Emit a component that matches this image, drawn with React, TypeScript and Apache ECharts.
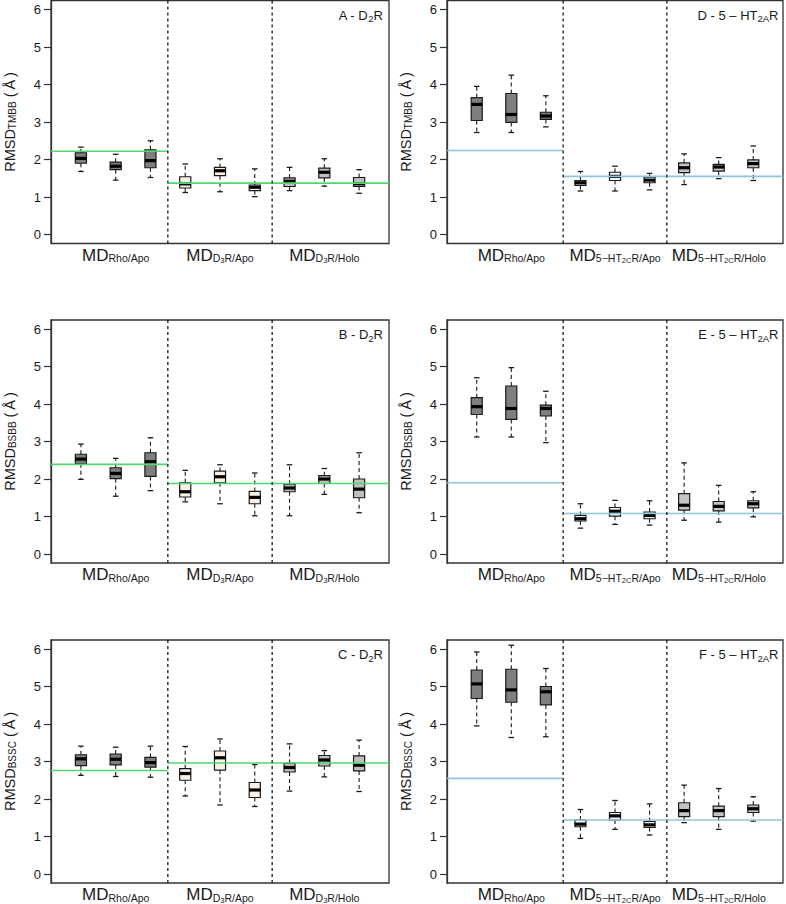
import React, { useEffect, useRef } from "react";
import * as echarts from "echarts";

const FONT = "'Liberation Sans', Arial, Helvetica, sans-serif";

// axis extents (R-style 4% extension of [0.5, 9.5] and [0, 6])
const xMin = 0.14;
const xMax = 9.86;
const yMin = -0.24;
const yMax = 6.24;
const groupEdges = [xMin, 3.5, 6.5, xMax];
const yTicks = [0, 1, 2, 3, 4, 5, 6];
const groupLabelPositions = [2, 5, 8];

// group (category) labels
const d2Groups = [
  "{m|MD}{s|Rho/Apo}",
  "{m|MD}{s|D}{ss|3}{s|R/Apo}",
  "{m|MD}{s|D}{ss|3}{s|R/Holo}",
];
const htGroups = [
  "{m|MD}{s|Rho/Apo}",
  "{m|MD}{s|5−HT}{ss|2C}{s|R/Apo}",
  "{m|MD}{s|5−HT}{ss|2C}{s|R/Holo}",
];

// box statistics: [min, q1, median, q3, max]
const tmbbD2R = [
  [1.68, 1.9, 2.03, 2.18, 2.33],
  [1.45, 1.73, 1.82, 1.93, 2.14],
  [1.52, 1.78, 1.97, 2.26, 2.5],
  [1.12, 1.24, 1.35, 1.54, 1.88],
  [1.14, 1.57, 1.7, 1.79, 2.02],
  [1.01, 1.17, 1.26, 1.32, 1.75],
  [1.17, 1.28, 1.42, 1.51, 1.79],
  [1.29, 1.51, 1.66, 1.77, 2.02],
  [1.1, 1.28, 1.35, 1.52, 1.73],
];
const bsbbD2R = [
  [1.99, 2.41, 2.53, 2.66, 2.93],
  [1.54, 2.01, 2.15, 2.3, 2.55],
  [1.69, 2.07, 2.46, 2.7, 3.1],
  [1.39, 1.52, 1.66, 1.9, 2.23],
  [1.34, 1.9, 2.06, 2.21, 2.38],
  [1.02, 1.34, 1.51, 1.67, 2.16],
  [1.02, 1.66, 1.76, 1.86, 2.38],
  [1.59, 1.88, 2.0, 2.09, 2.28],
  [1.1, 1.5, 1.73, 2.0, 2.7],
];
const bsscD2R = [
  [2.63, 2.89, 3.07, 3.18, 3.41],
  [2.6, 2.91, 3.06, 3.2, 3.38],
  [2.58, 2.85, 2.97, 3.11, 3.41],
  [2.08, 2.5, 2.68, 2.81, 3.4],
  [1.84, 2.77, 3.1, 3.28, 3.6],
  [1.8, 2.04, 2.24, 2.44, 2.92],
  [2.21, 2.72, 2.84, 2.95, 3.47],
  [2.59, 2.88, 3.04, 3.16, 3.29],
  [2.2, 2.75, 2.9, 3.15, 3.57],
];
const tmbbHT = [
  [2.72, 3.04, 3.47, 3.65, 3.95],
  [2.72, 2.99, 3.2, 3.76, 4.25],
  [2.87, 3.07, 3.16, 3.26, 3.7],
  [1.16, 1.31, 1.38, 1.44, 1.68],
  [1.16, 1.44, 1.55, 1.66, 1.82],
  [1.19, 1.38, 1.45, 1.53, 1.63],
  [1.33, 1.65, 1.78, 1.91, 2.15],
  [1.49, 1.69, 1.8, 1.87, 2.05],
  [1.44, 1.78, 1.89, 1.99, 2.36],
];
const bsbbHT = [
  [3.12, 3.72, 3.93, 4.17, 4.7],
  [3.12, 3.59, 3.88, 4.48, 4.97],
  [2.97, 3.68, 3.88, 3.97, 4.34],
  [0.69, 0.88, 0.94, 1.03, 1.34],
  [0.79, 1.01, 1.14, 1.24, 1.43],
  [0.77, 0.94, 1.03, 1.12, 1.42],
  [0.9, 1.17, 1.3, 1.61, 2.43],
  [0.85, 1.15, 1.27, 1.4, 1.83],
  [0.99, 1.23, 1.34, 1.42, 1.66],
];
const bsscHT = [
  [3.95, 4.68, 5.07, 5.44, 5.92],
  [3.64, 4.58, 4.91, 5.46, 6.1],
  [3.66, 4.51, 4.86, 5.0, 5.48],
  [0.95, 1.26, 1.33, 1.44, 1.72],
  [1.19, 1.44, 1.55, 1.64, 1.96],
  [1.04, 1.24, 1.31, 1.4, 1.87],
  [1.37, 1.53, 1.69, 1.9, 2.37],
  [1.19, 1.53, 1.69, 1.81, 2.28],
  [1.41, 1.64, 1.74, 1.84, 2.06],
];

// reference (crystal structure) RMSD per group
const refTmbbD2R = [2.22, 1.37, 1.37];
const refBsbbD2R = [2.39, 1.88, 1.88];
const refBsscD2R = [2.76, 2.96, 2.96];
const refTmbbHT = [2.24, 1.55, 1.55];
const refBsbbHT = [1.9, 1.08, 1.08];
const refBsscHT = [2.55, 1.44, 1.44];

const panelTitles = [
  "{t|A - D}{ts|2}{t|R}",
  "{t|B - D}{ts|2}{t|R}",
  "{t|C - D}{ts|2}{t|R}",
  "{t|D - 5 – HT}{ts|2A}{t|R}",
  "{t|E - 5 – HT}{ts|2A}{t|R}",
  "{t|F - 5 – HT}{ts|2A}{t|R}",
];
const yNames = [
  "{n|RMSD}{ns|TMBB}{n| (\u2009Å\u2009)}",
  "{n|RMSD}{ns|BSBB}{n| (\u2009Å\u2009)}",
  "{n|RMSD}{ns|BSSC}{n| (\u2009Å\u2009)}",
];

const d2Fills = ["#7f7f7f", "#fbf1e6", "#bfbfbf"];
const htFills = ["#7f7f7f", "#f8f8f8", "#c4c4c4"];
const green = "#4fd86f";
const blue = "#8fc4dd";

const colLeft = [51, 447];
const colWidth = [338, 336];
const rowTop = [0.5, 320, 640];
const rowHeight = 243;

const panels = [
  { data: tmbbD2R, ref: refTmbbD2R, col: 0, row: 0, groups: d2Groups, fills: d2Fills, refColor: green },
  { data: bsbbD2R, ref: refBsbbD2R, col: 0, row: 1, groups: d2Groups, fills: d2Fills, refColor: green },
  { data: bsscD2R, ref: refBsscD2R, col: 0, row: 2, groups: d2Groups, fills: d2Fills, refColor: green },
  { data: tmbbHT, ref: refTmbbHT, col: 1, row: 0, groups: htGroups, fills: htFills, refColor: blue },
  { data: bsbbHT, ref: refBsbbHT, col: 1, row: 1, groups: htGroups, fills: htFills, refColor: blue },
  { data: bsscHT, ref: refBsscHT, col: 1, row: 2, groups: htGroups, fills: htFills, refColor: blue },
];

const INK = "#1a1a1a";
const BOX_W = 0.32;

const txt = (fontSize: number, padTop: number) => ({
  fontSize,
  verticalAlign: "top",
  padding: [padTop, 0, 0, 0],
  color: INK,
  fontFamily: FONT,
  fontWeight: "normal",
});

function buildOption() {
  const grid: any[] = [];
  const xAxis: any[] = [];
  const yAxis: any[] = [];
  const series: any[] = [];
  const title: any[] = [];

  panels.forEach((p, i) => {
    grid.push({
      left: colLeft[p.col],
      top: rowTop[p.row],
      width: colWidth[p.col],
      height: rowHeight,
      show: true,
      borderColor: "#333",
      borderWidth: 1.3,
      backgroundColor: "transparent",
      outerBoundsMode: "none",
    });
    xAxis.push({
      type: "value",
      gridIndex: i,
      min: xMin,
      max: xMax,
      axisLine: { show: false },
      axisTick: { show: false },
      splitLine: { show: false },
      axisLabel: {
        customValues: groupLabelPositions,
        margin: 3,
        formatter: (v: number) => p.groups[groupLabelPositions.indexOf(Math.round(v))] || "",
        color: INK,
        fontFamily: FONT,
        rich: {
          m: txt(17, 0),
          s: txt(10.5, 6.4),
          ss: txt(7.5, 10),
        },
      },
    });
    yAxis.push({
      type: "value",
      gridIndex: i,
      min: yMin,
      max: yMax,
      splitLine: { show: false },
      axisLine: { show: true, lineStyle: { color: "#333", width: 1.3 } },
      axisTick: { show: true, length: 7, customValues: yTicks, lineStyle: { color: "#333", width: 1.2 } },
      axisLabel: {
        customValues: yTicks,
        margin: 10,
        fontSize: 13,
        color: INK,
        fontFamily: FONT,
      },
      name: yNames[p.row],
      nameLocation: "middle",
      nameRotate: 90,
      nameGap: 33.4,
      nameTextStyle: {
        color: INK,
        fontFamily: FONT,
        rich: {
          n: txt(14.5, 0),
          ns: txt(10, 4.85),
        },
      },
    });

    const boxData = p.data.map((b, k) => [k + 1, b[0], b[1], b[2], b[3], b[4], Math.floor(k / 3)]);
    const fills = p.fills;
    series.push({
      type: "custom",
      xAxisIndex: i,
      yAxisIndex: i,
      z: 2,
      encode: { x: 0, y: [1, 2, 3, 4, 5] },
      data: boxData,
      renderItem: (params: any, api: any) => {
        const x = api.value(0);
        const lo = api.coord([x, api.value(1)]);
        const q1 = api.coord([x, api.value(2)]);
        const med = api.coord([x, api.value(3)]);
        const q3 = api.coord([x, api.value(4)]);
        const hi = api.coord([x, api.value(5)]);
        const g = api.value(6);
        const bw = api.size([BOX_W, 0])[0];
        const cw = bw / 2;
        const cx = lo[0];
        const dash = { stroke: INK, lineWidth: 1.1, lineDash: [4, 3] };
        const solid = { stroke: INK, lineWidth: 1.3 };
        return {
          type: "group",
          children: [
            { type: "line", shape: { x1: cx, y1: q3[1], x2: cx, y2: hi[1] }, style: dash },
            { type: "line", shape: { x1: cx, y1: q1[1], x2: cx, y2: lo[1] }, style: dash },
            { type: "line", shape: { x1: cx - cw / 2, y1: hi[1], x2: cx + cw / 2, y2: hi[1] }, style: solid },
            { type: "line", shape: { x1: cx - cw / 2, y1: lo[1], x2: cx + cw / 2, y2: lo[1] }, style: solid },
            {
              type: "rect",
              shape: { x: cx - bw / 2, y: q3[1], width: bw, height: q1[1] - q3[1] },
              style: { fill: fills[g], stroke: INK, lineWidth: 1.2 },
            },
            {
              type: "line",
              shape: { x1: cx - bw / 2, y1: med[1], x2: cx + bw / 2, y2: med[1] },
              style: { stroke: "#000", lineWidth: 3.2 },
            },
          ],
        };
      },
    });

    const refData = p.ref.map((v, k) => [groupEdges[k], groupEdges[k + 1], v]);
    const refColor = p.refColor;
    series.push({
      type: "custom",
      xAxisIndex: i,
      yAxisIndex: i,
      z: 3,
      encode: { x: [0, 1], y: 2 },
      data: refData,
      renderItem: (params: any, api: any) => {
        const a = api.coord([api.value(0), api.value(2)]);
        const b = api.coord([api.value(1), api.value(2)]);
        return {
          type: "line",
          shape: { x1: a[0], y1: a[1], x2: b[0], y2: b[1] },
          style: { stroke: refColor, lineWidth: 1.6 },
        };
      },
    });

    series.push({
      type: "custom",
      xAxisIndex: i,
      yAxisIndex: i,
      z: 4,
      encode: { x: 0 },
      data: [[groupEdges[1]], [groupEdges[2]]],
      renderItem: (params: any, api: any) => {
        const a = api.coord([api.value(0), yMin]);
        const b = api.coord([api.value(0), yMax]);
        return {
          type: "line",
          shape: { x1: a[0], y1: a[1], x2: b[0], y2: b[1] },
          style: { stroke: INK, lineWidth: 1.3, lineDash: [3, 3] },
        };
      },
    });

    const rightEdge = colLeft[p.col] + colWidth[p.col] - (p.col === 0 ? 6 : 4.5);
    title.push({
      text: panelTitles[i],
      right: 786 - rightEdge,
      top: rowTop[p.row] + 8,
      padding: 0,
      textStyle: {
        fontWeight: "normal",
        rich: {
          t: txt(13, 0),
          ts: txt(9.5, 5),
        },
      },
    });
  });

  return { animation: false, backgroundColor: "#ffffff", title, grid, xAxis, yAxis, series };
}

export default function App() {
  const ref = useRef<HTMLDivElement>(null);
  useEffect(() => {
    if (!ref.current) return;
    const chart = echarts.init(ref.current, undefined, { renderer: "svg" });
    chart.setOption(buildOption() as any);
    return () => chart.dispose();
  }, []);
  return (
    <div
      ref={ref}
      style={{ position: "absolute", left: 0, top: 0, width: 786, height: 904, background: "#fff" }}
    />
  );
}
